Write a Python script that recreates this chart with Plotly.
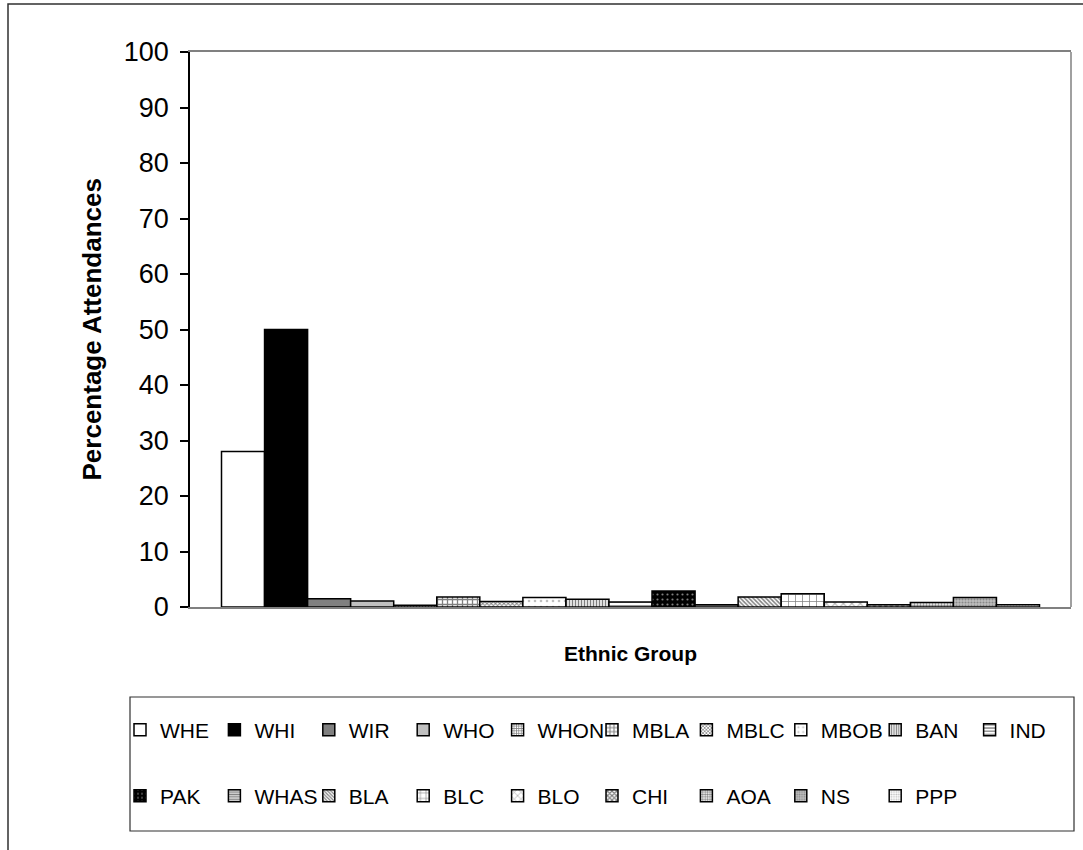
import plotly.graph_objects as go

groups = ["WHE", "WHI", "WIR", "WHO", "WHON", "MBLA", "MBLC", "MBOB", "BAN", "IND",
          "PAK", "WHAS", "BLA", "BLC", "BLO", "CHI", "AOA", "NS", "PPP"]
values = [28, 50, 1.5, 1.1, 0.3, 1.8, 1.0, 1.7, 1.4, 0.9,
          2.9, 0.4, 1.8, 2.4, 0.9, 0.4, 0.8, 1.7, 0.4]
y_ticks = list(range(0, 101, 10))

# (pattern shape, fg, bg, size, solidity)
styles = {
    "WHE": ("", "#000000", "#ffffff", 8, 0.3),
    "WHI": ("", "#000000", "#000000", 8, 0.3),
    "WIR": ("", "#000000", "#808080", 8, 0.3),
    "WHO": ("", "#000000", "#c0c0c0", 8, 0.3),
    "WHON": ("+", "#000000", "#ffffff", 3, 0.5),
    "MBLA": ("+", "#000000", "#ffffff", 5, 0.45),
    "MBLC": ("x", "#000000", "#ffffff", 3, 0.5),
    "MBOB": (".", "#808080", "#ffffff", 6, 0.15),
    "BAN": ("|", "#000000", "#ffffff", 3, 0.5),
    "IND": ("-", "#000000", "#ffffff", 4, 0.4),
    "PAK": (".", "#ffffff", "#000000", 5, 0.15),
    "WHAS": ("-", "#000000", "#ffffff", 3, 0.6),
    "BLA": ("\\", "#000000", "#ffffff", 3, 0.5),
    "BLC": ("+", "#000000", "#ffffff", 7, 0.2),
    "BLO": ("x", "#606060", "#ffffff", 6, 0.3),
    "CHI": ("x", "#000000", "#ffffff", 4, 0.6),
    "AOA": (".", "#000000", "#ffffff", 3, 0.5),
    "NS": (".", "#505050", "#c0c0c0", 3, 0.4),
    "PPP": (".", "#808080", "#ffffff", 3, 0.4),
}

FONT = "Liberation Sans, Arial, sans-serif"
W, H = 1083, 850
L, R, T, B = 190, 1071, 52, 607  # plot area pixels
ENTRY = 94.4  # legend column pitch in pixels


def px(x):
    return (x - L) / (R - L)


def py(y):
    return (B - y) / (B - T)


fig = go.Figure()
for i, (g, v) in enumerate(zip(groups, values)):
    shp, fg, bg, sz, sol = styles[g]
    fig.add_trace(go.Bar(
        x=["Ethnic Group"], y=[v], name=g,
        legend="legend" if i < 10 else "legend2",
        marker=dict(color=bg, line=dict(color="#000000", width=1.5),
                    pattern=dict(shape=shp, fgcolor=fg, bgcolor=bg, size=sz,
                                 solidity=sol, fillmode="overlay")),
    ))

legend_common = dict(orientation="h", xanchor="left", yanchor="middle",
                     entrywidth=ENTRY - 45, entrywidthmode="pixels",
                     font=dict(size=21, family=FONT), bgcolor="rgba(0,0,0,0)",
                     borderwidth=0, traceorder="normal")

fig.update_layout(
    width=W, height=H,
    margin=dict(l=L, r=W - R, t=T, b=H - B, autoexpand=False),
    paper_bgcolor="white", plot_bgcolor="white",
    barmode="group", bargap=0.0715, bargroupgap=0,
    font=dict(family=FONT, color="#000000"),
    xaxis=dict(showticklabels=False, ticks="", showgrid=False, zeroline=False,
               showline=True, linecolor="#808080", linewidth=1.5, mirror=True,
               range=[-0.5, 0.5]),
    yaxis=dict(range=[0, 100], tickvals=y_ticks, ticks="outside", ticklen=8,
               tickcolor="#000000", tickwidth=1.5, showgrid=False, zeroline=False,
               showline=True, linecolor="#000000", linewidth=1.5,
               tickfont=dict(size=27, family=FONT), ticklabelstandoff=6),
    legend=dict(x=px(120), y=py(730), **legend_common),
    legend2=dict(x=px(120), y=py(796), **legend_common),
    shapes=[
        # outer chart frame
        dict(type="rect", xref="paper", yref="paper", x0=px(8), x1=px(1100), y0=py(870), y1=py(4),
             line=dict(color="#303030", width=1.5), fillcolor="rgba(0,0,0,0)", layer="below"),
        # right border of plot area
        dict(type="line", xref="paper", yref="paper", x0=1, x1=1, y0=0, y1=1,
             line=dict(color="#808080", width=1.5)),
        # legend box
        dict(type="rect", xref="paper", yref="paper", x0=px(130), x1=px(1074), y0=py(831), y1=py(697),
             line=dict(color="#303030", width=1.2), fillcolor="rgba(0,0,0,0)"),
    ],
    annotations=[
        dict(text="<b>Percentage Attendances</b>", xref="paper", yref="paper",
             x=px(91), y=0.5, xanchor="center", yanchor="middle", textangle=-90,
             showarrow=False, font=dict(size=26, family=FONT)),
        dict(text="<b>Ethnic Group</b>", xref="paper", yref="paper",
             x=px(630), y=py(653), xanchor="center", yanchor="middle",
             showarrow=False, font=dict(size=21, family=FONT)),
    ],
)

fig.write_html("out.html")
